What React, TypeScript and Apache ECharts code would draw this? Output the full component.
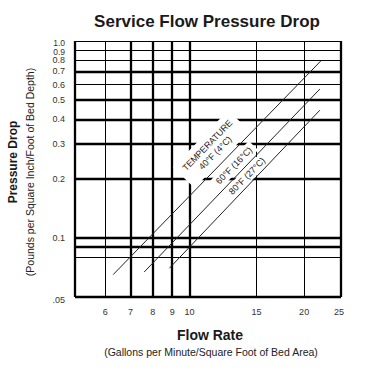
import React, { useEffect, useRef } from "react";
import * as echarts from "echarts";

// ---- data ----
const xTickValues = [6, 7, 8, 9, 10, 15, 20, 25];
const xTickLabels = ["6", "7", "8", "9", "10", "15", "20", "25"];
const yTickValues = [0.05, 0.1, 0.2, 0.3, 0.4, 0.5, 0.6, 0.7, 0.8, 0.9, 1.0];
const yTickLabels = [".05", "0.1", "0.2", "0.3", "0.4", "0.5", "0.6", "0.7", "0.8", "0.9", "1.0"];
const hGridValues = [0.05, 0.08, 0.09, 0.1, 0.2, 0.3, 0.4, 0.5, 0.6, 0.7, 0.8, 0.9, 1.0];
const hGridHeavy = [true, false, true, true, true, true, true, true, false, true, false, false, false];
const vGridValues = [5, 6, 7, 8, 9, 10, 15, 20, 25];
const vGridHeavy = [true, false, true, true, true, true, false, false, true];

const temp40F = [[6.3, 0.065], [22.1, 0.79]];
const temp60F = [[7.6, 0.067], [22.0, 0.57]];
const temp80F = [[8.85, 0.07], [22.0, 0.445]];
const lineLabels = ["TEMPERATURE\n40°F (4°C)", "60°F (16°C)", "80°F (27°C)"];
const lineLabelAnchors = [[11.41, 0.282], [13.09, 0.233], [14.16, 0.206]];

const FONT = "'Liberation Sans', Arial, Helvetica, sans-serif";

export default function App() {
  const ref = useRef<HTMLDivElement>(null);
  useEffect(() => {
    if (!ref.current) return;
    const chart = echarts.init(ref.current, null, { renderer: "svg" });
    const gridLines: any[] = [];
    hGridValues.forEach((v, i) =>
      gridLines.push({ yAxis: v, lineStyle: { color: "#000", type: "solid", width: hGridHeavy[i] ? 2.3 : 1 } })
    );
    vGridValues.forEach((v, i) =>
      gridLines.push({ xAxis: v, lineStyle: { color: "#000", type: "solid", width: vGridHeavy[i] ? 2.3 : 1 } })
    );
    const lineSeries = (name: string, data: number[][]) => ({
      name,
      type: "line",
      data,
      z: 3,
      symbol: "none",
      showSymbol: false,
      silent: true,
      lineStyle: { color: "#222", width: 1 },
    });
    chart.setOption({
      animation: false,
      backgroundColor: "#fff",
      grid: { left: 75, top: 41, width: 266, height: 256, outerBoundsMode: "none", containLabel: false },
      xAxis: {
        type: "log", logBase: 10, min: 5, max: 25,
        axisLine: { show: false }, axisTick: { show: false }, axisLabel: { show: false }, splitLine: { show: false },
      },
      yAxis: {
        type: "log", logBase: 10, min: 0.05, max: 1,
        axisLine: { show: false }, axisTick: { show: false }, axisLabel: { show: false }, splitLine: { show: false },
      },
      series: [
        {
          name: "grid",
          type: "line",
          data: [[5, 0.05], [25, 1]],
          symbol: "none",
          showSymbol: false,
          silent: true,
          lineStyle: { opacity: 0, width: 0 },
          markLine: {
            z: 1,
            silent: true,
            symbol: ["none", "none"],
            label: { show: false },
            emphasis: { disabled: true },
            animation: false,
            data: gridLines,
          },
        },
        lineSeries("40°F", temp40F),
        lineSeries("60°F", temp60F),
        lineSeries("80°F", temp80F),
      ],
    });

    const px = (v: number[]) => chart.convertToPixel({ gridIndex: 0 }, v) as number[];
    const elements: any[] = [];
    const last = yTickValues.length - 1;
    yTickValues.forEach((v, i) => {
      const p = px([5, v]);
      const dy = i === 0 ? 3 : i === last ? 1.5 : i === last - 1 ? 1.5 : 0;
      elements.push({
        type: "text", x: p[0] - 10, y: p[1] + dy, z: 2, silent: true,
        style: {
          text: yTickLabels[i], fontSize: i >= last - 1 ? 8.5 : 9, fontFamily: FONT, fill: "#333", align: "right",
          verticalAlign: "middle",
        },
      });
    });
    xTickValues.forEach((v, i) => {
      const p = px([v, 0.05]);
      elements.push({
        type: "text", x: p[0] + (i === xTickValues.length - 1 ? 3 : 0), y: p[1] + 15, z: 2, silent: true,
        style: {
          text: xTickLabels[i], fontSize: 9, fontFamily: FONT, fill: "#333",
          align: i === xTickValues.length - 1 ? "right" : "center", verticalAlign: "middle",
        },
      });
    });
    lineLabels.forEach((t, i) => {
      const p = px(lineLabelAnchors[i]);
      elements.push({
        type: "text", x: p[0], y: p[1], z: 2, silent: true, rotation: 0.8,
        style: {
          text: t, fontSize: 9, fontFamily: FONT, fill: "#222", align: "center", verticalAlign: "middle",
          lineHeight: 11, backgroundColor: "#fff", padding: i === 0 ? [4, 6] : [1, 4],
        },
      });
    });
    // titles
    elements.push({
      type: "text", x: 207, y: 21, z: 2, silent: true,
      style: { text: "Service Flow Pressure Drop", fontSize: 17, fontWeight: "bold", fontFamily: FONT, fill: "#1a1a1a", align: "center", verticalAlign: "middle" },
    });
    elements.push({
      type: "text", x: 210, y: 335, z: 2, silent: true,
      style: { text: "Flow Rate", fontSize: 14, fontWeight: "bold", fontFamily: FONT, fill: "#1a1a1a", align: "center", verticalAlign: "middle" },
    });
    elements.push({
      type: "text", x: 211, y: 352, z: 2, silent: true,
      style: { text: "(Gallons per Minute/Square Foot of Bed Area)", fontSize: 10.5, fontFamily: FONT, fill: "#222", align: "center", verticalAlign: "middle" },
    });
    elements.push({
      type: "text", x: 13, y: 162, z: 2, silent: true, rotation: Math.PI / 2,
      style: { text: "Pressure Drop", fontSize: 12, fontWeight: "bold", fontFamily: FONT, fill: "#1a1a1a", align: "center", verticalAlign: "middle" },
    });
    elements.push({
      type: "text", x: 30, y: 172, z: 2, silent: true, rotation: Math.PI / 2,
      style: { text: "(Pounds per Square Inch/Foot of Bed Depth)", fontSize: 10.5, fontFamily: FONT, fill: "#222", align: "center", verticalAlign: "middle" },
    });
    chart.setOption({ graphic: { elements } });
    return () => chart.dispose();
  }, []);
  return (
    <div
      ref={ref}
      style={{ position: "fixed", left: 0, top: 0, width: 372, height: 370, background: "#fff" }}
    />
  );
}
